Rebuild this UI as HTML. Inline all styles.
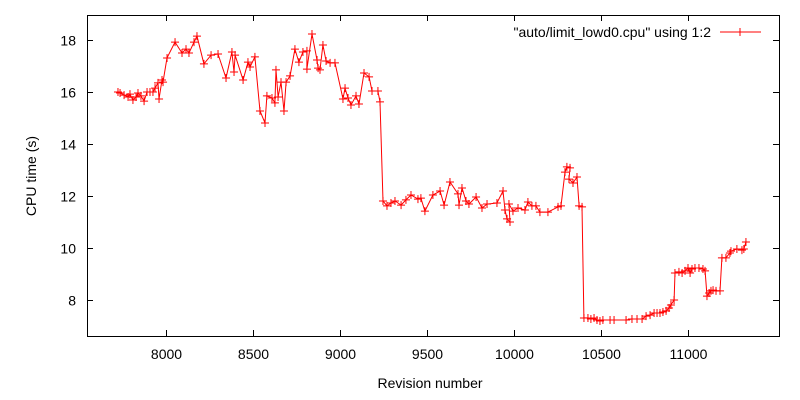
<!DOCTYPE html>
<html><head><meta charset="utf-8"><style>
html,body{margin:0;padding:0;background:#fff}
svg{display:block;font-family:"Liberation Sans",Arial,sans-serif}
</style></head><body>
<svg id="chart" width="800" height="400" viewBox="0 0 800 400" xmlns="http://www.w3.org/2000/svg">
<rect x="0" y="0" width="800" height="400" fill="#fff"/>
<g id="axes"></g>
<g id="series"></g>
<text x="36" y="176" font-size="14" text-anchor="middle" transform="rotate(-90 36 176)">CPU time (s)</text>
<text x="430" y="388" font-size="14" text-anchor="middle">Revision number</text>
<g>
<text x="711" y="37" font-size="14" text-anchor="end">"auto/limit_lowd0.cpu" using 1:2</text>
<line x1="720" y1="32" x2="761" y2="32" stroke="red" stroke-width="1"/>
<path d="M736,32h8M740,28v8" stroke="red" stroke-width="1"/>
</g>
</svg>
<script>
const revisions = [7724,7736,7759,7782,7793,7810,7828,7839,7856,7874,7891,7908,7925,7937,7954,7960,7977,7983,8006,8052,8092,8115,8132,8161,8178,8218,8259,8299,8345,8379,8391,8397,8443,8471,8483,8511,8540,8569,8580,8609,8626,8632,8644,8661,8678,8690,8713,8741,8764,8787,8810,8810,8839,8868,8874,8885,8902,8920,8943,8971,9017,9029,9046,9063,9092,9109,9138,9167,9184,9218,9230,9247,9270,9293,9316,9351,9379,9408,9448,9465,9488,9534,9575,9598,9632,9678,9684,9701,9724,9741,9782,9816,9845,9902,9937,9948,9960,9977,9971,9994,10023,10063,10080,10103,10126,10149,10195,10253,10270,10293,10304,10322,10316,10339,10362,10374,10391,10402,10425,10442,10460,10477,10494,10511,10552,10575,10644,10678,10707,10736,10759,10782,10805,10822,10839,10856,10874,10891,10902,10920,10925,10948,10966,10983,11000,11012,11023,11040,11063,11086,11098,11109,11121,11132,11144,11161,11184,11195,11218,11241,11247,11281,11310,11321,11333];
const cpuTimes = [16.0,15.96,15.88,15.81,15.92,15.69,15.81,15.96,15.85,15.65,16.0,16.0,16.0,16.15,16.35,15.73,16.46,16.38,17.31,17.92,17.5,17.65,17.5,17.92,18.15,17.08,17.42,17.46,16.54,17.54,16.77,17.42,16.46,17.15,16.96,17.35,15.27,14.81,15.85,15.77,15.58,16.85,15.81,16.38,15.27,16.38,16.62,17.65,17.15,17.54,17.58,16.88,18.23,17.23,16.92,16.85,17.81,17.19,17.12,17.12,15.73,16.15,15.77,15.5,15.85,15.54,16.73,16.58,16.04,16.04,15.62,11.81,11.62,11.73,11.81,11.65,11.85,12.04,11.88,11.92,11.42,12.04,12.19,11.65,12.54,12.08,11.65,12.31,11.81,11.69,11.96,11.54,11.69,11.73,12.19,11.46,11.12,11.0,11.69,11.42,11.54,11.46,11.77,11.62,11.62,11.38,11.38,11.58,11.62,12.92,13.12,13.08,12.65,12.5,12.73,11.62,11.58,7.31,7.31,7.27,7.31,7.23,7.19,7.23,7.23,7.23,7.23,7.27,7.27,7.27,7.38,7.42,7.5,7.5,7.5,7.54,7.58,7.69,7.81,8.0,9.04,9.08,9.04,9.12,9.23,9.04,9.19,9.23,9.23,9.19,9.12,8.15,8.27,8.35,8.38,8.35,8.35,9.62,9.62,9.81,9.88,9.96,9.92,9.96,10.23];
const xTicks = [8000,8500,9000,9500,10000,10500,11000];
const yTicks = [8,10,12,14,16,18];

const L=87,R=779,T=15,B=336;
function xScale(v){return 166+(v-8000)*87/500;}
function yScale(v){return 300-(v-8)*26;}
const NS="http://www.w3.org/2000/svg";
function mk(tag,attrs,parent){const e=document.createElementNS(NS,tag);for(const k in attrs)e.setAttribute(k,attrs[k]);parent.appendChild(e);return e;}
const axes=document.getElementById('axes');
const frame=mk('rect',{x:L+0.5,y:T+0.5,width:R-L,height:B-T,fill:'none',stroke:'#000','stroke-width':1},axes);


xTicks.forEach(t=>{
  const x=Math.round(xScale(t))+0.5;
  const tk=mk('path',{d:`M${x},${B}v-6M${x},${T}v6`,stroke:'#000','stroke-width':1},axes);
  
  
  const lb=mk('text',{x:x,y:B+23,'font-size':14,'text-anchor':'middle'},axes);
  lb.textContent=t;
  
  
});
yTicks.forEach(t=>{
  const y=Math.round(yScale(t))+0.5;
  const tk=mk('path',{d:`M${L},${y}h6M${R},${y}h-6`,stroke:'#000','stroke-width':1},axes);
  
  
  const lb=mk('text',{x:L-11,y:y+5,'font-size':14,'text-anchor':'end'},axes);
  lb.textContent=t;
  
  
});
const ser=document.getElementById('series');
let d='';
revisions.forEach((r,i)=>{d+=(i?'L':'M')+xScale(r).toFixed(1)+','+yScale(cpuTimes[i]).toFixed(1);});
const line=mk('path',{d:d,fill:'none',stroke:'red','stroke-width':1},ser);


revisions.forEach((r,i)=>{
  const x=xScale(r),y=yScale(cpuTimes[i]);
  const p=mk('path',{d:`M${x-4},${y}h8M${x},${y-4}v8`,stroke:'red','stroke-width':1},ser);
  
  
});
</script>
</body></html>
